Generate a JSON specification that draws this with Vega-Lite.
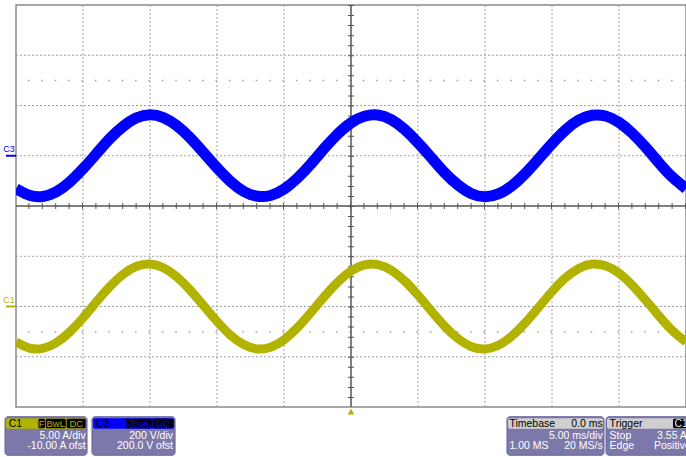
{
  "$schema": "https://vega.github.io/schema/vega-lite/v6.json",
  "width": 670,
  "height": 402,
  "autosize": {"type": "none"},
  "padding": {"left": 16, "top": 5, "right": 0, "bottom": 50},
  "background": "white",
  "config": {"view": {"stroke": "#8a8a8a", "strokeWidth": 1.5}, "font": "Liberation Sans"},
  "datasets": {
    "c3": [
      {"t": -25, "volts": -131}, {"t": -24, "volts": -157}, {"t": -23, "volts": -162}, {"t": -22, "volts": -144},
      {"t": -21, "volts": -105}, {"t": -20, "volts": -52}, {"t": -19, "volts": 8}, {"t": -18, "volts": 68},
      {"t": -17, "volts": 117}, {"t": -16, "volts": 151}, {"t": -15, "volts": 163}, {"t": -14, "volts": 152},
      {"t": -13, "volts": 120}, {"t": -12, "volts": 71}, {"t": -11, "volts": 12}, {"t": -10, "volts": -48},
      {"t": -9, "volts": -102}, {"t": -8, "volts": -142}, {"t": -7, "volts": -161}, {"t": -6, "volts": -158},
      {"t": -5, "volts": -133}, {"t": -4, "volts": -89}, {"t": -3, "volts": -33}, {"t": -2, "volts": 29},
      {"t": -1, "volts": 86}, {"t": 0, "volts": 131}, {"t": 1, "volts": 157}, {"t": 2, "volts": 162},
      {"t": 3, "volts": 144}, {"t": 4, "volts": 105}, {"t": 5, "volts": 52}, {"t": 6, "volts": -8},
      {"t": 7, "volts": -68}, {"t": 8, "volts": -117}, {"t": 9, "volts": -151}, {"t": 10, "volts": -163},
      {"t": 11, "volts": -152}, {"t": 12, "volts": -120}, {"t": 13, "volts": -71}, {"t": 14, "volts": -12},
      {"t": 15, "volts": 48}, {"t": 16, "volts": 102}, {"t": 17, "volts": 142}, {"t": 18, "volts": 161},
      {"t": 19, "volts": 158}, {"t": 20, "volts": 133}, {"t": 21, "volts": 89}, {"t": 22, "volts": 33},
      {"t": 23, "volts": -29}, {"t": 24, "volts": -86}, {"t": 25, "volts": -131}
    ],
    "c1": [
      {"t": -25, "amps": -3.53}, {"t": -24, "amps": -4.14}, {"t": -23, "amps": -4.17}, {"t": -22, "amps": -3.61},
      {"t": -21, "amps": -2.55}, {"t": -20, "amps": -1.13}, {"t": -19, "amps": 0.45}, {"t": -18, "amps": 1.97},
      {"t": -17, "amps": 3.21}, {"t": -16, "amps": 4.0}, {"t": -15, "amps": 4.23}, {"t": -14, "amps": 3.86},
      {"t": -13, "amps": 2.95}, {"t": -12, "amps": 1.63}, {"t": -11, "amps": 0.08}, {"t": -10, "amps": -1.48},
      {"t": -9, "amps": -2.84}, {"t": -8, "amps": -3.79}, {"t": -7, "amps": -4.22}, {"t": -6, "amps": -4.05},
      {"t": -5, "amps": -3.31}, {"t": -4, "amps": -2.11}, {"t": -3, "amps": -0.61}, {"t": -2, "amps": 0.97},
      {"t": -1, "amps": 2.42}, {"t": 0, "amps": 3.53}, {"t": 1, "amps": 4.14}, {"t": 2, "amps": 4.17},
      {"t": 3, "amps": 3.61}, {"t": 4, "amps": 2.55}, {"t": 5, "amps": 1.13}, {"t": 6, "amps": -0.45},
      {"t": 7, "amps": -1.97}, {"t": 8, "amps": -3.21}, {"t": 9, "amps": -4.0}, {"t": 10, "amps": -4.23},
      {"t": 11, "amps": -3.86}, {"t": 12, "amps": -2.95}, {"t": 13, "amps": -1.63}, {"t": 14, "amps": -0.08},
      {"t": 15, "amps": 1.48}, {"t": 16, "amps": 2.84}, {"t": 17, "amps": 3.79}, {"t": 18, "amps": 4.22},
      {"t": 19, "amps": 4.05}, {"t": 20, "amps": 3.31}, {"t": 21, "amps": 2.11}, {"t": 22, "amps": 0.61},
      {"t": 23, "amps": -0.97}, {"t": 24, "amps": -2.42}, {"t": 25, "amps": -3.53}
    ],
    "grid_t": [{"t": -20}, {"t": -15}, {"t": -10}, {"t": -5}, {"t": 5}, {"t": 10}, {"t": 15}, {"t": 20}],
    "grid_d": [{"div": -3}, {"div": -2}, {"div": -1}, {"div": 1}, {"div": 2}, {"div": 3}],
    "dots": [{"div": 2.5}, {"div": -2.5}],
    "center": [{"t": 0, "div": 0}],
    "boxes": [
      {"t": -25.82, "t2": -19.7, "div": -4.194, "div2": -4.96},
      {"t": -19.33, "t2": -13.13, "div": -4.194, "div2": -4.96},
      {"t": 11.64, "t2": 18.88, "div": -4.194, "div2": -4.96},
      {"t": 19.03, "t2": 26.2, "div": -4.194, "div2": -4.96}
    ],
    "headers": [
      {"t": -25.75, "t2": -19.78, "div": -4.224, "div2": -4.433, "kind": "C1"},
      {"t": -19.25, "t2": -13.2, "div": -4.224, "div2": -4.433, "kind": "C3"},
      {"t": 11.72, "t2": 18.81, "div": -4.224, "div2": -4.433, "kind": "gray"},
      {"t": 19.1, "t2": 26.2, "div": -4.224, "div2": -4.433, "kind": "gray"}
    ],
    "flags": [
      {"t": -23.33, "t2": -22.84, "div": -4.235, "div2": -4.422},
      {"t": -22.78, "t2": -21.29, "div": -4.235, "div2": -4.422},
      {"t": -21.22, "t2": -19.8, "div": -4.235, "div2": -4.422},
      {"t": -16.85, "t2": -16.44, "div": -4.235, "div2": -4.422},
      {"t": -16.37, "t2": -14.87, "div": -4.235, "div2": -4.422},
      {"t": -14.8, "t2": -13.26, "div": -4.235, "div2": -4.422},
      {"t": 24.03, "t2": 26.2, "div": -4.235, "div2": -4.422}
    ],
    "flag_text": [
      {"t": -23.09, "div": -4.33, "label": "F", "kind": "C1"},
      {"t": -22.04, "div": -4.33, "label": "BwL", "kind": "C1"},
      {"t": -20.5, "div": -4.33, "label": "DC", "kind": "C1"},
      {"t": -16.65, "div": -4.33, "label": "F", "kind": "C3"},
      {"t": -15.62, "div": -4.33, "label": "BwL", "kind": "C3"},
      {"t": -14.03, "div": -4.33, "label": "DC", "kind": "C3"}
    ],
    "head_left": [
      {"t": -25.55, "div": -4.33, "label": "C1"},
      {"t": -19.05, "div": -4.33, "label": "C3"},
      {"t": 11.82, "div": -4.33, "label": "Timebase"},
      {"t": 19.3, "div": -4.33, "label": "Trigger"}
    ],
    "head_right": [{"t": 18.78, "div": -4.33, "label": "0.0 ms"}],
    "trig_chan": [{"t": 24.14, "div": -4.33, "label": "C1"}],
    "body_right": [
      {"t": -19.8, "div": -4.572, "label": "5.00 A/div"},
      {"t": -19.8, "div": -4.781, "label": "-10.00 A ofst"},
      {"t": -13.28, "div": -4.572, "label": "200 V/div"},
      {"t": -13.28, "div": -4.781, "label": "200.0 V ofst"},
      {"t": 18.78, "div": -4.572, "label": "5.00 ms/div"},
      {"t": 18.78, "div": -4.781, "label": "20 MS/s"}
    ],
    "body_left": [
      {"t": 11.82, "div": -4.781, "label": "1.00 MS"},
      {"t": 19.3, "div": -4.572, "label": "Stop"},
      {"t": 19.3, "div": -4.781, "label": "Edge"},
      {"t": 22.84, "div": -4.572, "label": "3.55 A"},
      {"t": 22.61, "div": -4.781, "label": "Positive"}
    ],
    "markers": [
      {"t": -25.75, "t2": -25.0, "div": 1.0, "label": "C3", "kind": "C3", "ldiv": 1.13},
      {"t": -25.75, "t2": -25.0, "div": -2.0, "label": "C1", "kind": "C1", "ldiv": -1.88}
    ],
    "trigger": [{"t": 0, "div": -4.09}]
  },
  "layer": [
    {
      "layer": [
        {
          "data": {"name": "grid_t"},
          "mark": {"type": "rule", "color": "#a0a0a0", "strokeDash": [2, 2], "strokeWidth": 1},
          "encoding": {
            "x": {"field": "t", "type": "quantitative", "scale": {"domain": [-25, 25], "nice": false, "zero": false}, "axis": null}
          }
        },
        {
          "data": {"name": "grid_d"},
          "mark": {"type": "rule", "color": "#a0a0a0", "strokeDash": [2, 2], "strokeWidth": 1},
          "encoding": {
            "y": {"field": "div", "type": "quantitative", "scale": {"domain": [-4, 4], "nice": false, "zero": false}, "axis": null}
          }
        },
        {
          "data": {"name": "dots"},
          "mark": {"type": "rule", "color": "#a0a0a0", "strokeDash": [1.5, 11.9], "strokeWidth": 1.5},
          "encoding": {
            "y": {"field": "div", "type": "quantitative", "scale": {"domain": [-4, 4], "nice": false, "zero": false}, "axis": null}
          }
        },
        {
          "data": {"name": "center"},
          "mark": {"type": "rule", "color": "#555555", "strokeDash": [1, 9.05], "strokeWidth": 6},
          "encoding": {
            "x": {"field": "t", "type": "quantitative", "scale": {"domain": [-25, 25], "nice": false, "zero": false}, "axis": null}
          }
        },
        {
          "data": {"name": "center"},
          "mark": {"type": "rule", "color": "#555555", "strokeDash": [1, 12.4], "strokeWidth": 6},
          "encoding": {
            "y": {"field": "div", "type": "quantitative", "scale": {"domain": [-4, 4], "nice": false, "zero": false}, "axis": null}
          }
        },
        {
          "data": {"name": "center"},
          "mark": {"type": "rule", "color": "#555555", "strokeWidth": 1.5},
          "encoding": {
            "x": {"field": "t", "type": "quantitative", "scale": {"domain": [-25, 25], "nice": false, "zero": false}, "axis": null}
          }
        },
        {
          "data": {"name": "center"},
          "mark": {"type": "rule", "color": "#555555", "strokeWidth": 1.5},
          "encoding": {
            "y": {"field": "div", "type": "quantitative", "scale": {"domain": [-4, 4], "nice": false, "zero": false}, "axis": null}
          }
        },
        {
          "data": {"name": "boxes"},
          "mark": {"type": "rect", "fill": "#7d78aa", "stroke": "#66629a", "strokeWidth": 1, "cornerRadius": 3},
          "encoding": {
            "x": {"field": "t", "type": "quantitative", "scale": {"domain": [-25, 25], "nice": false, "zero": false}, "axis": null},
            "x2": {"field": "t2"},
            "y": {"field": "div", "type": "quantitative", "scale": {"domain": [-4, 4], "nice": false, "zero": false}, "axis": null},
            "y2": {"field": "div2"}
          }
        },
        {
          "data": {"name": "headers"},
          "mark": {"type": "rect", "cornerRadius": 2},
          "encoding": {
            "x": {"field": "t", "type": "quantitative", "scale": {"domain": [-25, 25], "nice": false, "zero": false}, "axis": null},
            "x2": {"field": "t2"},
            "y": {"field": "div", "type": "quantitative", "scale": {"domain": [-4, 4], "nice": false, "zero": false}, "axis": null},
            "y2": {"field": "div2"},
            "fill": {"field": "kind", "type": "nominal", "scale": {"domain": ["C1", "C3", "gray"], "range": ["#b2b200", "#0000ff", "#cfcfcf"]}, "legend": null}
          }
        },
        {
          "data": {"name": "flags"},
          "mark": {"type": "rect", "fill": "#000000", "cornerRadius": 1.5},
          "encoding": {
            "x": {"field": "t", "type": "quantitative", "scale": {"domain": [-25, 25], "nice": false, "zero": false}, "axis": null},
            "x2": {"field": "t2"},
            "y": {"field": "div", "type": "quantitative", "scale": {"domain": [-4, 4], "nice": false, "zero": false}, "axis": null},
            "y2": {"field": "div2"}
          }
        },
        {
          "data": {"name": "flag_text"},
          "mark": {"type": "text", "align": "center", "baseline": "middle", "fontSize": 9.5},
          "encoding": {
            "x": {"field": "t", "type": "quantitative", "scale": {"domain": [-25, 25], "nice": false, "zero": false}, "axis": null},
            "y": {"field": "div", "type": "quantitative", "scale": {"domain": [-4, 4], "nice": false, "zero": false}, "axis": null},
            "text": {"field": "label"},
            "color": {"field": "kind", "type": "nominal", "scale": {"domain": ["C1", "C3", "gray"], "range": ["#b2b200", "#0000ff", "#cfcfcf"]}, "legend": null}
          }
        },
        {
          "data": {"name": "head_left"},
          "mark": {"type": "text", "align": "left", "baseline": "middle", "fontSize": 10.5, "color": "#000000"},
          "encoding": {
            "x": {"field": "t", "type": "quantitative", "scale": {"domain": [-25, 25], "nice": false, "zero": false}, "axis": null},
            "y": {"field": "div", "type": "quantitative", "scale": {"domain": [-4, 4], "nice": false, "zero": false}, "axis": null},
            "text": {"field": "label"}
          }
        },
        {
          "data": {"name": "head_right"},
          "mark": {"type": "text", "align": "right", "baseline": "middle", "fontSize": 10.5, "color": "#000000"},
          "encoding": {
            "x": {"field": "t", "type": "quantitative", "scale": {"domain": [-25, 25], "nice": false, "zero": false}, "axis": null},
            "y": {"field": "div", "type": "quantitative", "scale": {"domain": [-4, 4], "nice": false, "zero": false}, "axis": null},
            "text": {"field": "label"}
          }
        },
        {
          "data": {"name": "trig_chan"},
          "mark": {"type": "text", "align": "left", "baseline": "middle", "fontSize": 10.5, "color": "#e8e8e8"},
          "encoding": {
            "x": {"field": "t", "type": "quantitative", "scale": {"domain": [-25, 25], "nice": false, "zero": false}, "axis": null},
            "y": {"field": "div", "type": "quantitative", "scale": {"domain": [-4, 4], "nice": false, "zero": false}, "axis": null},
            "text": {"field": "label"}
          }
        },
        {
          "data": {"name": "body_right"},
          "mark": {"type": "text", "align": "right", "baseline": "middle", "fontSize": 10.5, "color": "#ffffff"},
          "encoding": {
            "x": {"field": "t", "type": "quantitative", "scale": {"domain": [-25, 25], "nice": false, "zero": false}, "axis": null},
            "y": {"field": "div", "type": "quantitative", "scale": {"domain": [-4, 4], "nice": false, "zero": false}, "axis": null},
            "text": {"field": "label"}
          }
        },
        {
          "data": {"name": "body_left"},
          "mark": {"type": "text", "align": "left", "baseline": "middle", "fontSize": 10.5, "color": "#ffffff"},
          "encoding": {
            "x": {"field": "t", "type": "quantitative", "scale": {"domain": [-25, 25], "nice": false, "zero": false}, "axis": null},
            "y": {"field": "div", "type": "quantitative", "scale": {"domain": [-4, 4], "nice": false, "zero": false}, "axis": null},
            "text": {"field": "label"}
          }
        },
        {
          "data": {"name": "markers"},
          "mark": {"type": "rule", "strokeWidth": 2},
          "encoding": {
            "x": {"field": "t", "type": "quantitative", "scale": {"domain": [-25, 25], "nice": false, "zero": false}, "axis": null},
            "x2": {"field": "t2"},
            "y": {"field": "div", "type": "quantitative", "scale": {"domain": [-4, 4], "nice": false, "zero": false}, "axis": null},
            "color": {"field": "kind", "type": "nominal", "scale": {"domain": ["C1", "C3", "gray"], "range": ["#b2b200", "#0000ff", "#cfcfcf"]}, "legend": null}
          }
        },
        {
          "data": {"name": "markers"},
          "mark": {"type": "text", "align": "center", "baseline": "middle", "fontSize": 9},
          "encoding": {
            "x": {"field": "t2", "type": "quantitative", "scale": {"domain": [-25, 25], "nice": false, "zero": false}, "axis": null},
            "xOffset": {"value": -7},
            "y": {"field": "ldiv", "type": "quantitative", "scale": {"domain": [-4, 4], "nice": false, "zero": false}, "axis": null},
            "text": {"field": "label"},
            "color": {"field": "kind", "type": "nominal", "scale": {"domain": ["C1", "C3", "gray"], "range": ["#b2b200", "#0000ff", "#cfcfcf"]}, "legend": null}
          }
        },
        {
          "data": {"name": "trigger"},
          "mark": {"type": "point", "shape": "triangle-up", "filled": true, "size": 45, "color": "#b2b200", "opacity": 1},
          "encoding": {
            "x": {"field": "t", "type": "quantitative", "scale": {"domain": [-25, 25], "nice": false, "zero": false}, "axis": null},
            "y": {"field": "div", "type": "quantitative", "scale": {"domain": [-4, 4], "nice": false, "zero": false}, "axis": null}
          }
        }
      ]
    },
    {
      "data": {"name": "c3"},
      "mark": {"type": "line", "color": "#0000ff", "strokeWidth": 11, "interpolate": "natural", "clip": true},
      "encoding": {
        "x": {"field": "t", "type": "quantitative", "scale": {"domain": [-25, 25], "nice": false, "zero": false}, "axis": null},
        "y": {"field": "volts", "type": "quantitative", "scale": {"domain": [-1000, 600], "nice": false, "zero": false}, "axis": null}
      }
    },
    {
      "data": {"name": "c1"},
      "mark": {"type": "line", "color": "#b2b200", "strokeWidth": 9, "interpolate": "natural", "clip": true},
      "encoding": {
        "x": {"field": "t", "type": "quantitative", "scale": {"domain": [-25, 25], "nice": false, "zero": false}, "axis": null},
        "y": {"field": "amps", "type": "quantitative", "scale": {"domain": [-10, 30], "nice": false, "zero": false}, "axis": null}
      }
    }
  ],
  "resolve": {"scale": {"y": "independent"}}
}
